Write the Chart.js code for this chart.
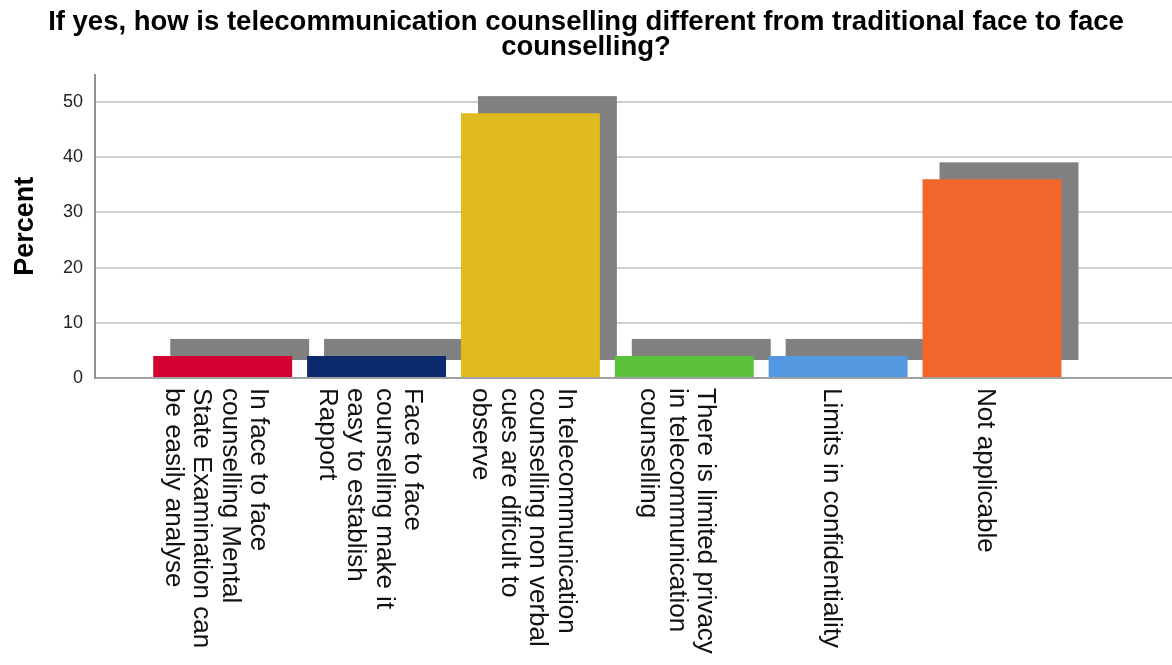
<!DOCTYPE html>
<html>
<head>
<meta charset="utf-8">
<script src="https://cdn.jsdelivr.net/npm/chart.js@4"></script>
<style>
  body { margin: 0; background: #fff; }
</style>
</head>
<body>
<canvas id="grafico" width="1172" height="665"></canvas>
<script>
// Categorias (una linea por elemento) y porcentajes
const categorias = [
  ["In face to face", "counselling Mental", "State Examination can", "be easily analyse"],
  ["Face to face", "counselling make it", "easy to establish", "Rapport"],
  ["In telecommunication", "counselling non verbal", "cues are dificult to", "observe"],
  ["There is limited privacy", "in telecommunication", "counselling"],
  ["Limits in confidentiality"],
  ["Not applicable"],
];
const porcentajes = [4, 4, 48, 4, 4, 36];
const colores = ["#d50032", "#0c2a6e", "#e1b920", "#5cc13a", "#5598e2", "#f1672b"];
const ticksY = [0, 10, 20, 30, 40, 50];

const fuente = "'Liberation Sans', Arial, sans-serif";
const desplazamientoSombra = 17;

// Sombra gris detras de cada barra
const sombras = {
  id: "sombras",
  beforeDatasetsDraw(chart) {
    const ctx = chart.ctx;
    const meta = chart.getDatasetMeta(0);
    ctx.save();
    ctx.fillStyle = "#808080";
    meta.data.forEach((barra) => {
      const { x, y, base, width } = barra.getProps(["x", "y", "base", "width"], true);
      ctx.fillRect(x - width / 2 + desplazamientoSombra, y - desplazamientoSombra, width, base - y);
    });
    ctx.restore();
  },
};

// Etiquetas del eje X giradas 90 grados (se leen de arriba a abajo)
const etiquetasRotadas = {
  id: "etiquetasRotadas",
  afterDraw(chart) {
    const ctx = chart.ctx;
    const xScale = chart.scales.x;
    const alto = 28.5;
    ctx.save();
    ctx.font = "26px " + fuente;
    ctx.fillStyle = "#111";
    ctx.textAlign = "left";
    ctx.textBaseline = "alphabetic";
    categorias.forEach((lineas, i) => {
      const cx = xScale.getPixelForValue(i);
      const n = lineas.length;
      lineas.forEach((linea, j) => {
        const c = ((n - 1) / 2 - j) * alto - 5;
        ctx.save();
        ctx.translate(cx, chart.chartArea.bottom + 10);
        ctx.rotate(Math.PI / 2);
        ctx.fillText(linea, 0, -c + 9.3);
        ctx.restore();
      });
    });
    ctx.restore();
  },
};

const ctx = document.getElementById("grafico").getContext("2d");

new Chart(ctx, {
  type: "bar",
  data: {
    datasets: [
      {
        label: "Percent",
        data: porcentajes.map((v, i) => ({ x: i, y: v })),
        backgroundColor: colores,
        borderWidth: 0,
        categoryPercentage: 1,
        barPercentage: 0.903,
      },
    ],
  },
  options: {
    responsive: false,
    animation: false,
    layout: { padding: { left: 0, right: 0, top: 0, bottom: 287 } },
    plugins: {
      legend: { display: false },
      tooltip: { enabled: false },
      title: {
        display: true,
        text: [
          "If yes, how is telecommunication counselling different from traditional face to face",
          "counselling?",
        ],
        color: "#000",
        font: { family: fuente, size: 27.5, weight: "bold", lineHeight: 0.9 },
        padding: { top: 10, bottom: 15 },
      },
    },
    scales: {
      x: {
        type: "linear",
        min: -0.83,
        max: 6.17,
        offset: false,
        // un tick por categoria, asi el ancho de barra sale de la separacion entre categorias
        afterBuildTicks: (scale) => {
          scale.ticks = categorias.map((c, i) => ({ value: i }));
        },
        ticks: { display: false },
        grid: { display: false, drawTicks: false, offset: false },
        border: { display: true, color: "#a0a0a0", width: 2 },
      },
      y: {
        min: 0,
        max: 55,
        afterBuildTicks: (scale) => {
          scale.ticks = ticksY.map((v) => ({ value: v }));
        },
        afterFit: (scale) => {
          scale.width = 95;
        },
        ticks: {
          color: "#222",
          padding: 12,
          font: { family: fuente, size: 18 },
        },
        grid: { color: "#d0d0d0", lineWidth: 2, drawTicks: false },
        border: { color: "#909090", width: 2 },
        title: {
          display: true,
          text: "Percent",
          color: "#000",
          font: { family: fuente, size: 27, weight: "bold" },
          padding: { top: 9, bottom: 0 },
        },
      },
    },
  },
  plugins: [sombras, etiquetasRotadas],
});
</script>
</body>
</html>
